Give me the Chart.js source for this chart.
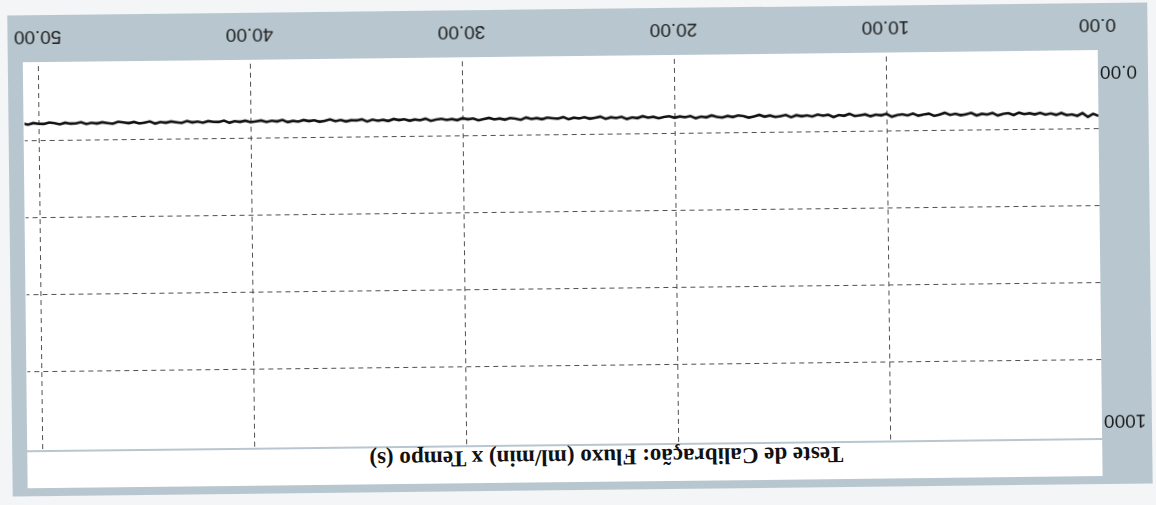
<!DOCTYPE html>
<html>
<head>
<meta charset="utf-8">
<script src="https://cdn.jsdelivr.net/npm/chart.js@4/dist/chart.umd.min.js"></script>
<style>
  html, body { margin: 0; padding: 0; background: #f3f5f6; overflow: hidden; }
  #page { position: relative; width: 1156px; height: 505px; transform: rotate(179.35deg); transform-origin: 50% 50%; }
  #panel { position: absolute; left: 6px; top: 15px; width: 1140px; height: 481px; background: #b8c7cf; }
  #plotbg { position: absolute; left: 56px; top: 61px; width: 1075px; height: 388px; background: #ffffff; }
  #titlebar { position: absolute; left: 56px; top: 23px; width: 1075px; height: 36px; background: #ffffff; }
  #title { position: absolute; left: 0; top: 35px; width: 1104px; text-align: center;
           font: bold 23px "Liberation Serif", "Times New Roman", serif; color: #111; line-height: 26px; }
  #c { position: absolute; left: 0; top: 0; }
</style>
</head>
<body>
<div id="page">
  <div id="panel"></div>
  <div id="titlebar"></div>
  <div id="plotbg"></div>
  <div id="title">Teste de Calibração: Fluxo (ml/min) x Tempo (s)</div>
  <canvas id="c" width="1156" height="505"></canvas>
</div>
<script>
// ---- data ----
const sampleInterval = 0.25; // s between samples
const flowValues = [
  166, 160, 168, 158, 165, 161, 163, 157, 162, 158, 161, 156, 160, 157, 159, 155, 161, 156, 158, 162,
  155, 159, 157, 161, 154, 158, 160, 156, 159, 153, 158, 161, 155, 157, 160, 154, 159, 156, 158, 162,
  154, 158, 156, 160, 155, 157, 159, 153, 158, 156, 161, 155, 157, 154, 159, 156, 158, 155, 160, 154,
  157, 159, 155, 158, 153, 157, 160, 156, 154, 158, 155, 159, 157, 153, 158, 156, 160, 154, 157, 155,
  158, 154, 156, 159, 155, 157, 153, 158, 156, 160, 154, 157, 155, 159, 153, 156, 158, 154, 157, 155,
  159, 153, 157, 156, 154, 158, 155, 157, 153, 159, 156, 154, 158, 155, 157, 153, 156, 159, 154, 156,
  153, 158, 155, 157, 154, 156, 159, 153, 157, 155, 158, 154, 156, 153, 158, 155, 157, 154, 159, 153,
  156, 155, 158, 154, 157, 152, 156, 158, 154, 156, 153, 157, 155, 158, 152, 156, 154, 157, 153, 155,
  157, 153, 156, 154, 158, 152, 156, 155, 153, 157, 154, 156, 152, 157, 155, 153, 156, 154, 158, 152,
  155, 157, 153, 156, 154, 152, 157, 155, 153, 156, 154, 157, 152, 155, 156, 153, 157, 154, 152, 156,
  155, 153, 157, 154
];
const timeValues = flowValues.map((_, i) => i * sampleInterval);
const xTickValues = [0, 10, 20, 30, 40, 50];
const xTickLabels = ['0.00', '10.00', '20.00', '30.00', '40.00', '50.00'];
const yGridValues = [0, 200, 400, 600, 800, 1000];
const yLabelValues = [1000, 0];
const yLabelTexts = ['1000', '0.00'];
const xMax = 50.66;

const labelFont = { family: '"Liberation Sans", Arial, sans-serif', size: 19 };

const yLabelPlugin = {
  id: 'yLabels',
  afterDraw(chart) {
    const ctx = chart.ctx;
    const ys = chart.scales.y;
    const area = chart.chartArea;
    ctx.save();
    ctx.font = labelFont.size + 'px ' + labelFont.family;
    ctx.fillStyle = '#1a1a1a';
    ctx.textAlign = 'right';
    ctx.textBaseline = 'middle';
    yLabelValues.forEach((v, i) => {
      const p = ys.getPixelForValue(v);
      const off = (v === ys.max) ? 17 : -19;
      ctx.fillText(yLabelTexts[i], area.left - 2, p + off);
    });
    ctx.restore();
  }
};

new Chart(document.getElementById('c'), {
  type: 'line',
  data: {
    datasets: [{
      data: timeValues.map((t, i) => ({ x: t, y: flowValues[i] })),
      borderColor: '#111111',
      borderWidth: 2.6,
      pointRadius: 0,
      tension: 0,
      fill: false
    }]
  },
  options: {
    responsive: false,
    animation: false,
    devicePixelRatio: 1,
    layout: { padding: { left: 56, right: 25, top: 62, bottom: 19 } },
    plugins: { legend: { display: false }, tooltip: { enabled: false }, title: { display: false } },
    scales: {
      x: {
        type: 'linear',
        min: 0,
        max: xMax,
        afterBuildTicks: (s) => { s.ticks = xTickValues.map(v => ({ value: v })); },
        afterFit: (s) => { s.height = 39; },
        ticks: {
          includeBounds: false,
          autoSkip: false,
          maxRotation: 0,
          padding: 16,
          color: '#1a1a1a',
          font: labelFont,
          callback: (v) => xTickLabels[xTickValues.indexOf(v)]
        },
        grid: {
          drawTicks: false,
          lineWidth: 1,
          color: (c) => (c.tick && c.tick.value === 0) ? 'rgba(0,0,0,0)' : 'rgba(60,60,60,0.9)'
        },
        border: { display: false, dash: [5, 4] }
      },
      y: {
        type: 'linear',
        min: 0,
        max: 1000,
        afterBuildTicks: (s) => { s.ticks = yGridValues.map(v => ({ value: v })); },
        afterFit: (s) => { s.width = 0; },
        ticks: { display: false },
        grid: {
          drawTicks: false,
          lineWidth: 1,
          color: (c) => (c.tick && (c.tick.value === 0 || c.tick.value === 1000)) ? 'rgba(0,0,0,0)' : 'rgba(60,60,60,0.9)'
        },
        border: { display: false, dash: [5, 4] }
      }
    }
  },
  plugins: [yLabelPlugin]
});
</script>
</body>
</html>
